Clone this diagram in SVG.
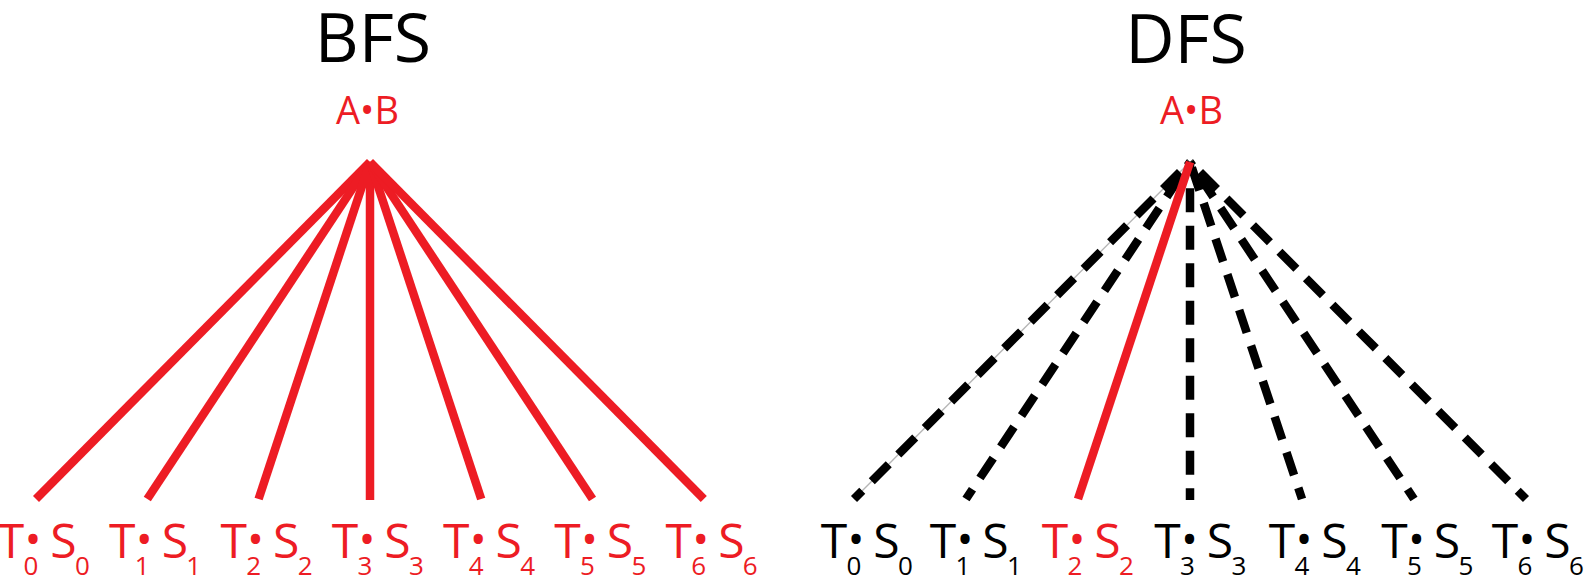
<svg xmlns="http://www.w3.org/2000/svg" width="1584" height="587" viewBox="0 0 1584 587">
<style>
text{font-family:"Open Sans","Noto Sans",sans-serif;text-anchor:middle}
.title{font-size:68px;fill:#000}
.root{font-size:38px;fill:#ED1C24}
.lbl{font-size:48px}
.s{font-size:26px}
.b{font-size:44px}
.red{fill:#ED1C24}
.blk{fill:#000}
.sol{stroke:#ED1C24;stroke-width:8.5;fill:none}
.dash{stroke:#000;stroke-width:8.5;fill:none;stroke-dasharray:24 13.5;stroke-dashoffset:12.3}
.thin{stroke:#b5b5b5;stroke-width:1.3;fill:none}
</style>
<rect width="1584" height="587" fill="#fff"/>
<g id="connectors">
  <g id="bfs-edges" class="sol">
    <line x1="370" y1="162" x2="36" y2="499"/>
    <line x1="370" y1="162" x2="147.3" y2="499"/>
    <line x1="370" y1="162" x2="258.6" y2="499"/>
    <line x1="370" y1="162" x2="370" y2="500"/>
    <line x1="370" y1="162" x2="481.2" y2="499"/>
    <line x1="370" y1="162" x2="592.5" y2="499"/>
    <line x1="370" y1="162" x2="703.8" y2="499"/>
  </g>
  <g id="dfs-edges">
    <path class="thin" d="M854,499 L1190,162"/>
    <path class="dash" d="M854,499 L1190,162"/>
    <path class="dash" d="M966,499 L1190,162"/>
    <path class="dash" d="M1190,500 L1190,162"/>
    <path class="dash" d="M1302,499 L1190,162"/>
    <path class="dash" d="M1414,499 L1190,162"/>
    <path class="dash" d="M1526,499 L1190,162"/>
    <path class="sol" d="M1078,499 L1190,162"/>
  </g>
</g>
<g id="bfs-title"><text class="title" x="373" y="62">BFS</text></g>
<g id="dfs-title"><text class="title" x="1186" y="62.5">DFS</text></g>
<g id="bfs-root"><text class="root" x="367.5" y="123.5">A•B</text></g>
<g id="dfs-root"><text class="root" x="1191.5" y="123.5">A•B</text></g>
<g id="bfs-leaves" class="red">
  <g id="bfs-l0"><text class="lbl"><tspan x="11" y="557.7">T</tspan><tspan class="s" x="31" y="574.5">0</tspan><tspan class="b" x="33" y="555">•</tspan><tspan x="63.5" y="558">S</tspan><tspan class="s" x="82.5" y="574.5">0</tspan></text></g>
  <g id="bfs-l1"><text class="lbl"><tspan x="122.3" y="557.7">T</tspan><tspan class="s" x="142.3" y="574.5">1</tspan><tspan class="b" x="144.3" y="555">•</tspan><tspan x="174.8" y="558">S</tspan><tspan class="s" x="193.8" y="574.5">1</tspan></text></g>
  <g id="bfs-l2"><text class="lbl"><tspan x="233.6" y="557.7">T</tspan><tspan class="s" x="253.6" y="574.5">2</tspan><tspan class="b" x="255.6" y="555">•</tspan><tspan x="286.1" y="558">S</tspan><tspan class="s" x="305.1" y="574.5">2</tspan></text></g>
  <g id="bfs-l3"><text class="lbl"><tspan x="344.9" y="557.7">T</tspan><tspan class="s" x="364.9" y="574.5">3</tspan><tspan class="b" x="366.9" y="555">•</tspan><tspan x="397.4" y="558">S</tspan><tspan class="s" x="416.4" y="574.5">3</tspan></text></g>
  <g id="bfs-l4"><text class="lbl"><tspan x="456.2" y="557.7">T</tspan><tspan class="s" x="476.2" y="574.5">4</tspan><tspan class="b" x="478.2" y="555">•</tspan><tspan x="508.7" y="558">S</tspan><tspan class="s" x="527.7" y="574.5">4</tspan></text></g>
  <g id="bfs-l5"><text class="lbl"><tspan x="567.5" y="557.7">T</tspan><tspan class="s" x="587.5" y="574.5">5</tspan><tspan class="b" x="589.5" y="555">•</tspan><tspan x="620" y="558">S</tspan><tspan class="s" x="639" y="574.5">5</tspan></text></g>
  <g id="bfs-l6"><text class="lbl"><tspan x="678.8" y="557.7">T</tspan><tspan class="s" x="698.8" y="574.5">6</tspan><tspan class="b" x="700.8" y="555">•</tspan><tspan x="731.3" y="558">S</tspan><tspan class="s" x="750.3" y="574.5">6</tspan></text></g>
</g>
<g id="dfs-leaves" class="blk">
  <g id="dfs-l0"><text class="lbl"><tspan x="834" y="557.7">T</tspan><tspan class="s" x="854" y="574.5">0</tspan><tspan class="b" x="856" y="555">•</tspan><tspan x="886.5" y="558">S</tspan><tspan class="s" x="905.5" y="574.5">0</tspan></text></g>
  <g id="dfs-l1"><text class="lbl"><tspan x="943" y="557.7">T</tspan><tspan class="s" x="963" y="574.5">1</tspan><tspan class="b" x="965" y="555">•</tspan><tspan x="995.5" y="558">S</tspan><tspan class="s" x="1014.5" y="574.5">1</tspan></text></g>
  <g id="dfs-l2" class="red"><text class="lbl"><tspan x="1055" y="557.7">T</tspan><tspan class="s" x="1075" y="574.5">2</tspan><tspan class="b" x="1077" y="555">•</tspan><tspan x="1107.5" y="558">S</tspan><tspan class="s" x="1126.5" y="574.5">2</tspan></text></g>
  <g id="dfs-l3"><text class="lbl"><tspan x="1167.5" y="557.7">T</tspan><tspan class="s" x="1187.5" y="574.5">3</tspan><tspan class="b" x="1189.5" y="555">•</tspan><tspan x="1220" y="558">S</tspan><tspan class="s" x="1239" y="574.5">3</tspan></text></g>
  <g id="dfs-l4"><text class="lbl"><tspan x="1282" y="557.7">T</tspan><tspan class="s" x="1302" y="574.5">4</tspan><tspan class="b" x="1304" y="555">•</tspan><tspan x="1334.5" y="558">S</tspan><tspan class="s" x="1353.5" y="574.5">4</tspan></text></g>
  <g id="dfs-l5"><text class="lbl"><tspan x="1394.5" y="557.7">T</tspan><tspan class="s" x="1414.5" y="574.5">5</tspan><tspan class="b" x="1416.5" y="555">•</tspan><tspan x="1447" y="558">S</tspan><tspan class="s" x="1466" y="574.5">5</tspan></text></g>
  <g id="dfs-l6"><text class="lbl"><tspan x="1505" y="557.7">T</tspan><tspan class="s" x="1525" y="574.5">6</tspan><tspan class="b" x="1527" y="555">•</tspan><tspan x="1557.5" y="558">S</tspan><tspan class="s" x="1576.5" y="574.5">6</tspan></text></g>
</g>
</svg>
